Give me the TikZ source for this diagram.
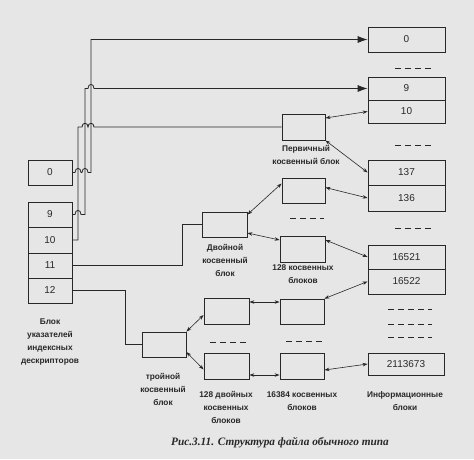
\documentclass[tikz,border=0pt]{standalone}
\usepackage{fontspec}
\setmainfont{Liberation Sans}
\newfontfamily\capfont{Liberation Serif}
\usetikzlibrary{arrows.meta}
\definecolor{bgc}{RGB}{230,230,230}
\definecolor{ink}{RGB}{40,40,40}
\begin{document}
\begin{tikzpicture}[x=1pt,y=-1pt,
  box/.style={draw=ink,line width=0.8pt,inner sep=0pt,font=\fontsize{10}{12}\selectfont,text=ink},
  lbl/.style={font=\fontsize{8.3}{13}\selectfont\bfseries,align=center,text=ink,inner sep=0pt},
  wire/.style={draw=ink,line width=0.8pt},
  big/.style={wire,-{Latex[length=10pt,width=7pt]}},
  dbl/.style={wire,line width=0.6pt,{Stealth[length=5pt,width=3.5pt]}-{Stealth[length=5pt,width=3.5pt]}},
  dsh/.style={draw=ink,line width=0.8pt,dash pattern=on 6pt off 4pt}]
\fill[bgc] (0,0) rectangle (474,459);
\useasboundingbox (0,0) rectangle (474,459);
% left column
\node[box,minimum width=44pt,minimum height=25pt] (L0) at (50,172.5) {0};
\node[box,minimum width=44pt,minimum height=25pt] (L9) at (50,214.5) {9};
\node[box,minimum width=44pt,minimum height=26pt] (L10) at (50,240) {10};
\node[box,minimum width=44pt,minimum height=25pt] (L11) at (50,265.5) {11};
\node[box,minimum width=44pt,minimum height=25pt] (L12) at (50,290.5) {12};
\node[lbl] (Llab) at (50,342) {Блок\\указателей\\индексных\\дескрипторов};
% information blocks
\node[box,minimum width=77pt,minimum height=25pt] (I0) at (406.5,39.5) {0};
\node[box,minimum width=77pt,minimum height=23pt] (I9) at (406.5,88.5) {9};
\node[box,minimum width=77pt,minimum height=23pt] (I10) at (406.5,111.5) {10};
\node[box,minimum width=77pt,minimum height=25pt] (I137) at (406.5,172.5) {137};
\node[box,minimum width=77pt,minimum height=26pt] (I136) at (406.5,198) {136};
\node[box,minimum width=77pt,minimum height=24pt] (I16521) at (406.5,257) {16521};
\node[box,minimum width=77pt,minimum height=25pt] (I16522) at (406.5,281.5) {16522};
\node[box,minimum width=76pt,minimum height=22pt] (I2113673) at (406,364) {2113673};
\node[lbl] (Ilab) at (405,401.5) {Информационные\\блоки};
% indirect blocks
\node[box,minimum width=43pt,minimum height=26pt] (P) at (303.5,127) {};
\node[lbl] (Plab) at (306,154.5) {Первичный\\косвенный блок};
\node[box,minimum width=43pt,minimum height=25pt] (B) at (303.5,190.5) {};
\node[box,minimum width=45pt,minimum height=26pt] (C) at (302.5,249) {};
\node[lbl] (Clab) at (303,274) {128 косвенных\\блоков};
\node[box,minimum width=45pt,minimum height=25pt] (D) at (224.5,224.5) {};
\node[lbl] (Dlab) at (225,260.5) {Двойной\\косвенный\\блок};
\node[box,minimum width=44pt,minimum height=25pt] (T) at (164,344.5) {};
\node[lbl] (Tlab) at (163,389.5) {тройной\\косвенный\\блок};
\node[box,minimum width=45pt,minimum height=26pt] (DD1) at (226.5,311) {};
\node[box,minimum width=45pt,minimum height=26pt] (DD2) at (226.5,366) {};
\node[lbl] (DDlab) at (226,407) {128 двойных\\косвенных\\блоков};
\node[box,minimum width=44pt,minimum height=25pt] (S1) at (302,311.5) {};
\node[box,minimum width=44pt,minimum height=26pt] (S2) at (302,366) {};
\node[lbl] (Slab) at (302,401.5) {16384 косвенных\\блоков};
% dashes
\draw[dsh] (395,68) -- (432,68);
\draw[dsh] (395,145) -- (432,145);
\draw[dsh] (395,228) -- (432,228);
\draw[dsh] (388,309) -- (432,309);
\draw[dsh] (388,324) -- (432,324);
\draw[dsh] (388,337) -- (432,337);
\draw[dsh] (290,218) -- (324,218);
\draw[dsh] (210,342) -- (248,342);
\draw[dsh] (286,341) -- (325,341);
% routed connectors with hops
\draw[wire] (L10.east) -- (78,240) -- (78,127) -- (82,127)
  .. controls (82,122) and (88,122) .. (88,127)
  .. controls (88,122) and (94,122) .. (94,127) -- (P.west);
\draw[big] (L9.east) -- (75,214.5) .. controls (75,209) and (81,209) .. (81,214.5)
  -- (85,214.5) -- (85,88.5) -- (88,88.5) .. controls (88,83) and (94,83) .. (94,88.5) -- (I9.west);
\draw[big] (L0.east) -- (75,172.5) .. controls (75,167) and (81,167) .. (81,172.5)
  -- (82,172.5) .. controls (82,167) and (88,167) .. (88,172.5)
  -- (91,172.5) -- (91,39.5) -- (I0.west);
\draw[wire] (L11.east) -- (182,265.5) -- (182,224.5) -- (D.west);
\draw[wire] (L12.east) -- (125,290.5) -- (125,344.5) -- (T.west);
% double-headed arrows
\draw[dbl] ([yshift=9pt]P.east) -- (I10.west);
\draw[dbl] (P.south east) -- (I137.west);
\draw[dbl] ([yshift=3pt]B.east) -- (I136.west);
\draw[dbl] ([yshift=9pt]C.east) -- (I16521.west);
\draw[dbl] (S1.north east) -- (I16522.west);
\draw[dbl] ([yshift=-4pt]S2.east) -- (I2113673.west);
\draw[dbl] ([yshift=-3pt]D.north east) -- ([yshift=7pt]B.west);
\draw[dbl] ([yshift=-8.5pt]D.east) -- ([yshift=9pt]C.west);
\draw[dbl] (T.north east) -- ([yshift=-4pt]DD1.west);
\draw[dbl] ([yshift=-7.5pt]T.east) -- ([yshift=-3.5pt]DD2.west);
\draw[dbl] ([yshift=9pt]DD1.east) -- ([yshift=9.5pt]S1.west);
\draw[dbl] ([yshift=-9pt]DD2.east) -- ([yshift=-9pt]S2.west);
% caption
\node[inner sep=0pt,text=ink,font=\capfont\bfseries\itshape\fontsize{11.3}{14}\selectfont] (cap) at (280,443) {Рис.3.11. Структура файла обычного типа};
\end{tikzpicture}
\end{document}
